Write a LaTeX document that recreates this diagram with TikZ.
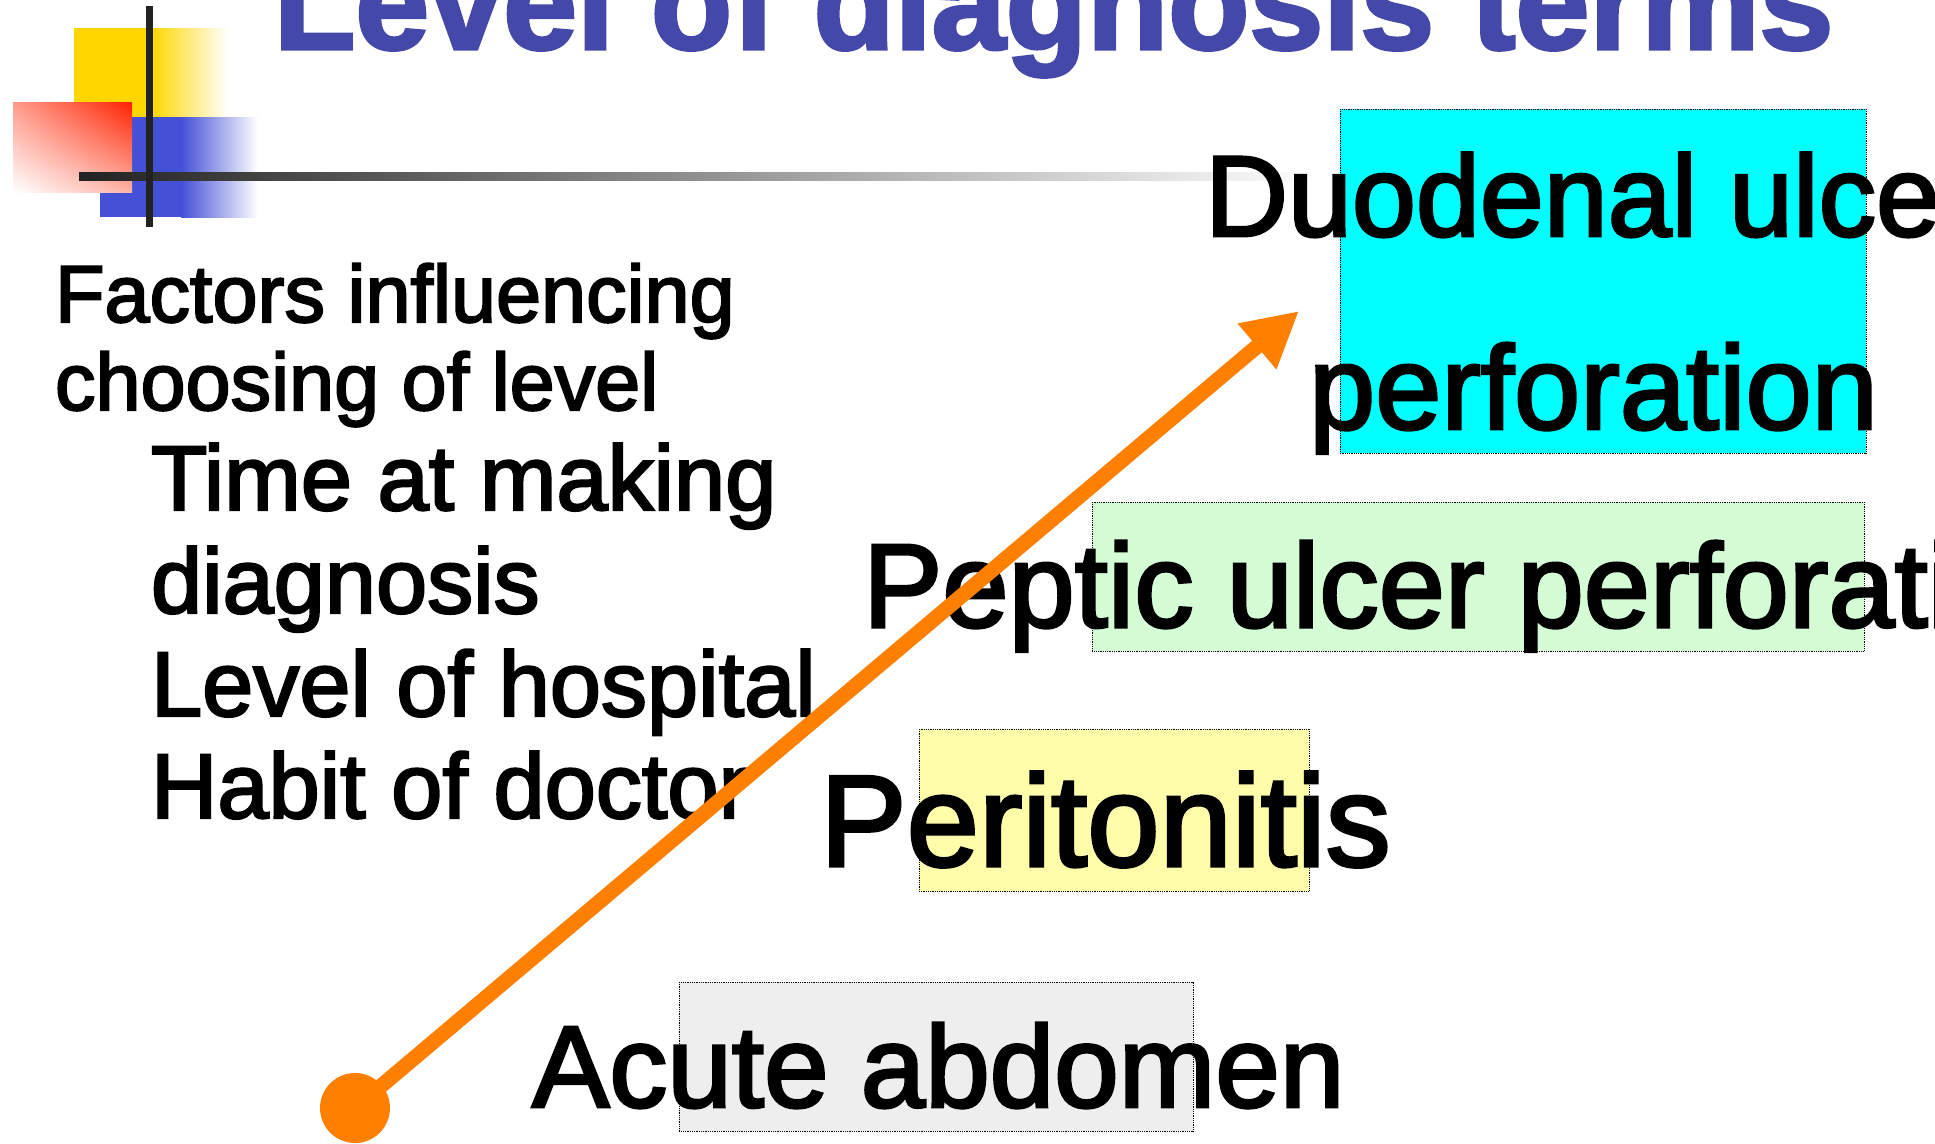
\documentclass[tikz,border=0pt]{standalone}
\usepackage{fontspec}
\setmainfont{Liberation Sans}[RawFeature={embolden=2.5}]
\usetikzlibrary{arrows.meta,shadings}
\definecolor{titleblue}{HTML}{4449A9}
\definecolor{decoyellow}{HTML}{FFD600}
\definecolor{decoblue}{HTML}{4450D6}
\definecolor{decored}{HTML}{FF2200}
\definecolor{boxcyan}{HTML}{00FFFF}
\definecolor{boxgreen}{HTML}{D5FDD5}
\definecolor{boxyellow}{HTML}{FFFCAA}
\definecolor{boxgray}{HTML}{EEEEEE}
\definecolor{arroworange}{HTML}{FF7F00}
\definecolor{decoline}{HTML}{222222}
\tikzset{
  txt/.style={anchor=base west, inner sep=0pt, outer sep=0pt, text=black},
  hbox/.style={draw=black, densely dotted, line width=0.8pt},
  bigtxt/.style={txt, font=\fontsize{119}{130}\selectfont},
}
\begin{document}
\begin{tikzpicture}[x=1pt,y=-1pt]
\useasboundingbox (0,0) rectangle (1935,1143);
% decoration
\fill[decoyellow] (74,28) rectangle (152,117);
\shade[left color=decoyellow, right color=white] (151,28) rectangle (228,117);
\fill[decoblue] (100,117) rectangle (182,217);
\shade[left color=decoblue, right color=white] (181,117) rectangle (258,217);
\shade[upper right=decored, lower left=white, upper left=decored!45, lower right=decored!35] (13,102) rectangle (132,192);
\shade[left color=decoline, right color=white] (79,172) rectangle (1320,180);
\fill[decoline] (146,6) rectangle (153,227);
% title
\node[txt, text=titleblue, font=\fontsize{133}{140}\selectfont\bfseries] (title) at (274,49) {Level of diagnosis terms};
% left text
\node[txt, font=\fontsize{81}{90}\selectfont] (f1) at (55,322) {Factors influencing};
\node[txt, font=\fontsize{81}{90}\selectfont] (f2) at (55,410) {choosing of level};
\node[txt, font=\fontsize{92}{100}\selectfont] (s1) at (151,510) {Time at making};
\node[txt, font=\fontsize{92}{100}\selectfont] (s2) at (151,613) {diagnosis};
\node[txt, font=\fontsize{92}{100}\selectfont] (s3) at (151,716) {Level of hospital};
\node[txt, font=\fontsize{92}{100}\selectfont] (s4) at (151,818) {Habit of doctor};
% boxes
\path[hbox, fill=boxcyan] (1340,109) rectangle (1866,453);
\path[hbox, fill=boxgreen] (1092,502) rectangle (1864,651);
\path[hbox, fill=boxyellow] (919,729) rectangle (1309,891);
\path[hbox, fill=boxgray] (679,982) rectangle (1193,1131);
% labels
\node[txt, font=\fontsize{115}{130}\selectfont] (duo) at (1205,236) {Duodenal ulcer};
\node[txt, font=\fontsize{119}{130}\selectfont] (duo2) at (1309,429) {perforation};
\node[bigtxt] (pep) at (863,627) {Peptic ulcer perforation};
\node[txt, font=\fontsize{130}{140}\selectfont] (per) at (820,866) {Peritonitis};
\node[txt, font=\fontsize{116}{130}\selectfont] (acu) at (532,1107) {Acute abdomen};
% arrow
\node[circle, fill=arroworange, minimum size=70pt, inner sep=0pt] (dot) at (355,1108) {};
\coordinate (tip) at (1299,311);
\draw[arroworange, line width=15pt, -{Triangle[length=55pt,width=56pt]}] (dot.center) -- (tip);
\end{tikzpicture}
\end{document}
